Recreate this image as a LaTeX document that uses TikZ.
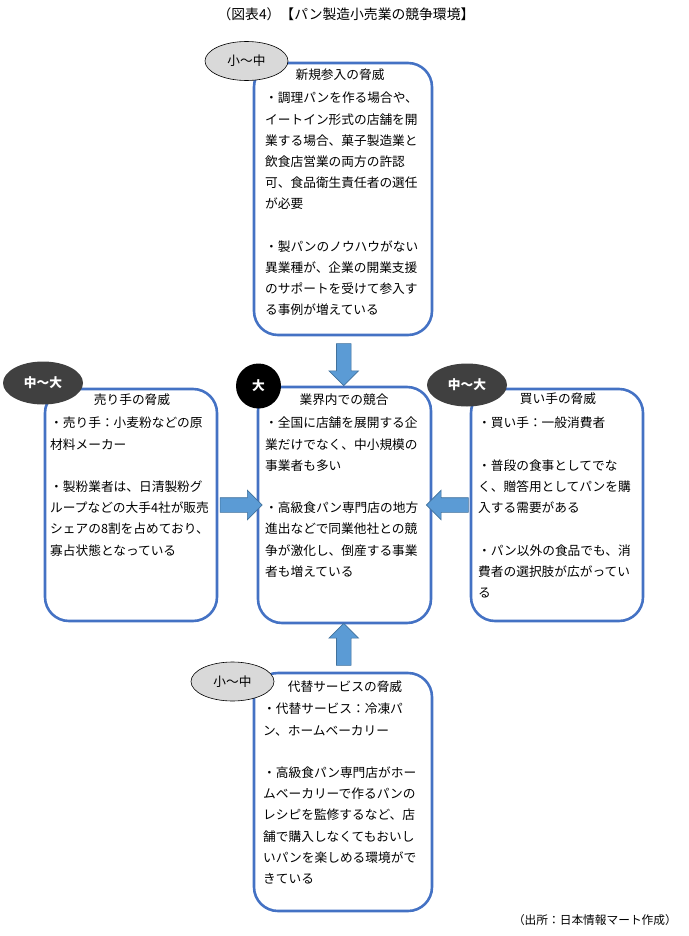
\documentclass[tikz,border=0pt]{standalone}
\usepackage{fontspec}
\setmainfont{Noto Sans CJK JP}
\usetikzlibrary{shapes.geometric,shapes.arrows,calc}

\definecolor{boxblue}{HTML}{4472C4}
\definecolor{arrowblue}{HTML}{5B9BD5}
\definecolor{arrowedge}{HTML}{41719C}
\definecolor{levelgray}{HTML}{D9D9D9}
\definecolor{leveldark}{HTML}{404040}

% fixed height for the first line of a text block
\newcommand{\firstline}{\rule{0pt}{12pt}}

\tikzset{
    threatbox/.style={draw=boxblue, line width=2.6pt, rounded corners=24pt, inner sep=0pt},
    boxtitle/.style={anchor=base, inner sep=0pt},
    boxtext/.style={anchor=north west, align=left, inner sep=0pt},
    pusharrow/.style={single arrow, fill=arrowblue, draw=arrowedge, line width=0.6pt,
        minimum height=42pt, single arrow head extend=7.5pt, inner xsep=0pt, inner ysep=7pt},
    lowlevel/.style={ellipse, fill=levelgray, draw=black, line width=0.6pt,
        minimum width=83pt, minimum height=39pt, inner sep=0pt},
    midlevel/.style={ellipse, fill=leveldark, text=white, font=\bfseries,
        minimum width=80pt, minimum height=43pt, inner sep=0pt},
    toplevel/.style={circle, fill=black, text=white, font=\bfseries,
        minimum size=45pt, inner sep=0pt}
}

\begin{document}
\fontsize{12.7pt}{21.2pt}\selectfont
\begin{tikzpicture}[x=1pt, y=-1pt]
    \useasboundingbox (0,0) rectangle (688,936);

    % Heading
    \node[anchor=base, inner sep=0pt, font=\fontsize{13.8pt}{15pt}\selectfont] (heading) at (346,20) {（図表4）【パン製造小売業の競争環境】};

    % Boxes
    \node[threatbox, minimum width=178pt, minimum height=272pt] (newentry) at (343,199) {};
    \node[threatbox, minimum width=172pt, minimum height=232pt] (supplier) at (131,505) {};
    \node[threatbox, minimum width=173pt, minimum height=236pt] (rivalry) at (344.5,505) {};
    \node[threatbox, minimum width=172pt, minimum height=232pt] (buyer) at (557,505) {};
    \node[threatbox, minimum width=178pt, minimum height=238pt] (substitute) at (343,792) {};

    % Arrows into the industry
    \node[pusharrow, rotate=-90] (entryarrow) at ($(newentry.south)!0.5!(rivalry.north)$) {};
    \node[pusharrow] (supplierarrow) at ($(supplier.east)!0.5!(rivalry.west)$) {};
    \node[pusharrow, rotate=180] (buyerarrow) at ($(buyer.west)!0.5!(rivalry.east)$) {};
    \node[pusharrow, rotate=90] (substitutearrow) at ($(substitute.north)!0.5!(rivalry.south)$) {};

    % Levels
    \node[lowlevel] (entrylevel) at (246.5,61) {小〜中};
    \node[midlevel] (supplierlevel) at (43,383) {中〜大};
    \node[toplevel] (rivalrylevel) at (258.5,386) {大};
    \node[midlevel] (buyerlevel) at (467,385) {中〜大};
    \node[lowlevel] (substitutelevel) at (232.5,681.5) {小〜中};

    % New entry
    \node[boxtitle] (entrytitle) at (340,79.7) {新規参入の脅威};
    \node[boxtext] (entrytext) at (265,90.7) {\firstline・調理パンを作る場合や、\\
        イートイン形式の店舗を開\\
        業する場合、菓子製造業と\\
        飲食店営業の両方の許認\\
        可、食品衛生責任者の選任\\
        が必要\\
        ~\\
        ・製パンのノウハウがない\\
        異業種が、企業の開業支援\\
        のサポートを受けて参入す\\
        る事例が増えている};

    % Supplier
    \node[boxtitle] (suppliertitle) at (132,404.7) {売り手の脅威};
    \node[boxtext] (suppliertext) at (50,415.7) {\firstline・売り手：小麦粉などの原\\
        材料メーカー\\
        ~\\
        ・製粉業者は、日清製粉グ\\
        ループなどの大手4社が販売\\
        シェアの8割を占めており、\\
        寡占状態となっている};

    % Rivalry
    \node[boxtitle] (rivalrytitle) at (344,404.7) {業界内での競合};
    \node[boxtext] (rivalrytext) at (265,415.7) {\firstline・全国に店舗を展開する企\\
        業だけでなく、中小規模の\\
        事業者も多い\\
        ~\\
        ・高級食パン専門店の地方\\
        進出などで同業他社との競\\
        争が激化し、倒産する事業\\
        者も増えている};

    % Buyer
    \node[boxtitle] (buyertitle) at (558,403.7) {買い手の脅威};
    \node[boxtext] (buyertext) at (478,415.7) {\firstline・買い手：一般消費者\\
        ~\\
        ・普段の食事としてでな\\
        く、贈答用としてパンを購\\
        入する需要がある\\
        ~\\
        ・パン以外の食品でも、消\\
        費者の選択肢が広がってい\\
        る};

    % Substitute
    \node[boxtitle] (substitutetitle) at (345,691.7) {代替サービスの脅威};
    \node[boxtext] (substitutetext) at (263,701.7) {\firstline・代替サービス：冷凍パ\\
        ン、ホームベーカリー\\
        ~\\
        ・高級食パン専門店がホー\\
        ムベーカリーで作るパンの\\
        レシピを監修するなど、店\\
        舗で購入しなくてもおいし\\
        いパンを楽しめる環境がで\\
        きている};

    % Source
    \node[anchor=base east, inner sep=0pt, font=\fontsize{11.7pt}{14pt}\selectfont] (source) at (677,924.5) {（出所：日本情報マート作成）};
\end{tikzpicture}
\end{document}
